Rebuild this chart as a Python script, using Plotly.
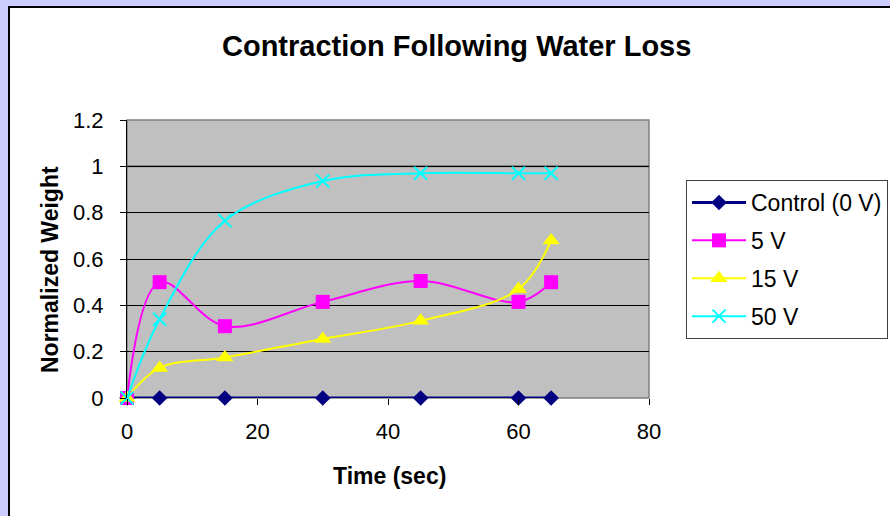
import plotly.graph_objects as go

time_sec = [0, 5, 15, 30, 45, 60, 65]
control_0v = [0, 0, 0, 0, 0, 0, 0]
v5 = [0, 0.50, 0.31, 0.415, 0.505, 0.415, 0.50]
v15 = [0, 0.13, 0.175, 0.255, 0.333, 0.47, 0.68]
v50 = [0, 0.34, 0.765, 0.937, 0.97, 0.97, 0.97]

series_names = ["Control (0 V)", "5 V", "15 V", "50 V"]
x_ticks = [0, 20, 40, 60, 80]
y_ticks = [0, 0.2, 0.4, 0.6, 0.8, 1, 1.2]
y_tick_text = ["0", "0.2", "0.4", "0.6", "0.8", "1", "1.2"]

FONT = "Liberation Sans, Arial, sans-serif"

W, H = 890, 516
L, R, T, B = 127, 649, 120, 398
pw, ph = R - L, B - T

def px_x(p):
    return (p - L) / pw

def px_y(p):
    return (B - p) / ph

fig = go.Figure()

styles = [
    dict(color="#000080", symbol="diamond", size=12, lw=3, mline=0),
    dict(color="#FF00FF", symbol="square", size=14, lw=2, mline=0),
    dict(color="#FFFF00", symbol="triangle-up", size=15, lw=2, mline=0),
    dict(color="#00FFFF", symbol="x-thin", size=13, lw=2, mline=2),
]
data = [control_0v, v5, v15, v50]

for name, ys, st in zip(series_names, data, styles):
    fig.add_trace(go.Scatter(
        x=time_sec, y=ys, name=name, mode="lines+markers",
        legendgroup=name,
        line=dict(color=st["color"], width=st["lw"], shape="spline", smoothing=1),
        marker=dict(symbol=st["symbol"], size=st["size"], color=st["color"],
                    line=dict(color=st["color"], width=st["mline"])),
        cliponaxis=False,
    ))

shapes = [
    # lavender outer strips
    dict(type="rect", xref="paper", yref="paper", x0=px_x(-5), x1=px_x(8), y0=px_y(600), y1=px_y(-5),
         fillcolor="#CCCCFF", line=dict(width=0), layer="below"),
    dict(type="rect", xref="paper", yref="paper", x0=px_x(-5), x1=px_x(900), y0=px_y(6), y1=px_y(-5),
         fillcolor="#CCCCFF", line=dict(width=0), layer="below"),
    # black frame
    dict(type="rect", xref="paper", yref="paper", x0=px_x(9), x1=px_x(960), y0=px_y(600), y1=px_y(7),
         fillcolor="rgba(0,0,0,0)", line=dict(color="black", width=2), layer="above"),
    # plot area border
    dict(type="rect", xref="paper", yref="paper", x0=0, x1=1, y0=0, y1=1,
         fillcolor="rgba(0,0,0,0)", line=dict(color="#808080", width=1.5), layer="between"),
    # gray line at y=1
    dict(type="line", xref="paper", yref="y", x0=0, x1=1, y0=1, y1=1,
         line=dict(color="#707070", width=2), layer="between"),
]

fig.update_layout(
    width=W, height=H,
    margin=dict(l=L, r=W - R, t=T, b=H - B, pad=0, autoexpand=False),
    paper_bgcolor="white",
    plot_bgcolor="#C0C0C0",
    font=dict(family=FONT, size=22, color="black"),
    shapes=shapes,
    showlegend=True,
    legend=dict(
        x=px_x(686), y=px_y(180), xanchor="left", yanchor="top",
        bgcolor="white", bordercolor="#404040", borderwidth=1,
        font=dict(family=FONT, size=23, color="black"),
        tracegroupgap=5, traceorder="grouped", itemwidth=54,
    ),
    annotations=[
        dict(text="<b>Contraction Following Water Loss</b>", xref="paper", yref="paper",
             x=px_x(456), y=px_y(46), xanchor="center", yanchor="middle", showarrow=False,
             font=dict(family=FONT, size=29, color="black")),
        dict(text="<b>Time (sec)</b>", xref="paper", yref="paper",
             x=px_x(389), y=px_y(476), xanchor="center", yanchor="middle", showarrow=False,
             font=dict(family=FONT, size=23, color="black")),
        dict(text="<b>Normalized Weight</b>", xref="paper", yref="paper",
             x=px_x(50), y=px_y(270), xanchor="center", yanchor="middle", showarrow=False,
             textangle=-90, font=dict(family=FONT, size=23, color="black")),
    ],
)

fig.update_xaxes(
    range=[0, 80], tickvals=x_ticks, ticktext=[str(v) for v in x_ticks],
    showgrid=False, zeroline=False, showline=False,
    ticks="outside", ticklen=6, tickcolor="black", tickwidth=1,
    tickfont=dict(family=FONT, size=22), ticklabelstandoff=8, automargin=False,
)
fig.update_yaxes(
    range=[0, 1.2], tickvals=y_ticks, ticktext=y_tick_text,
    showgrid=True, gridcolor="black", gridwidth=1, zeroline=False,
    showline=True, linecolor="black", linewidth=1,
    ticks="outside", ticklen=6, tickcolor="black", tickwidth=1,
    tickfont=dict(family=FONT, size=22), ticklabelstandoff=12, automargin=False,
)

fig.write_html("out.html", config={"displayModeBar": False},
               post_script="document.body.style.margin='0';document.body.style.overflow='hidden';")
